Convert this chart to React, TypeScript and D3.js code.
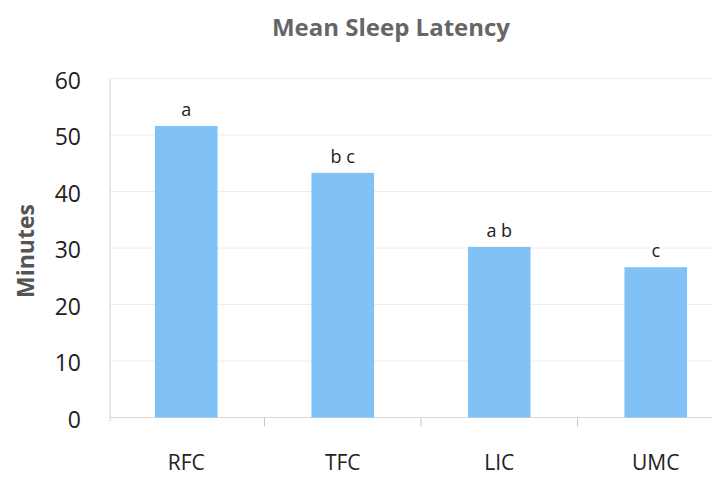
import React from "react";
import * as d3 from "d3";

const categories = ["RFC", "TFC", "LIC", "UMC"];
const values = [51.6, 43.3, 30.2, 26.6];
const letters = ["a", "b c", "a b", "c"];
const yTicks = [0, 10, 20, 30, 40, 50, 60];
const title = "Mean Sleep Latency";
const yLabel = "Minutes";

export default function App() {
  const W = 726, H = 479;
  const x = d3.scaleBand<string>().domain(categories).range([108, 734]).paddingInner(0.6).paddingOuter(0.3);
  const y = d3.scaleLinear().domain([0, 60]).range([417.5, 78.5]);
  const step = x.step();
  const font = "'Open Sans', 'Noto Sans', sans-serif";
  return (
    <svg width={W} height={H} style={{ position: "absolute", left: 0, top: 0, background: "#fff" }}>
      <rect x={0} y={0} width={W} height={H} fill="#fff" />
      <text x={391} y={28} dy="0.35em" textAnchor="middle" fontFamily={font} fontWeight="bold" fontSize={24} fill="#666">{title}</text>
      {yTicks.map((t) => (
        <g key={t}>
          <line x1={110} x2={712} y1={y(t)} y2={y(t)} stroke={t === 0 ? "#d8d8d8" : "#ececec"} strokeWidth={1} />
          <text x={81} y={y(t) + 2} dy="0.35em" textAnchor="end" fontFamily={font} fontSize={23} fill="#222">{t}</text>
        </g>
      ))}
      <line x1={110} x2={110} y1={y(60)} y2={y(0) + 4} stroke="#d0d0d0" strokeWidth={1} />
      {categories.slice(1).map((c) => {
        const bx = (x(c) as number) - (step - x.bandwidth()) / 2;
        return <line key={c} x1={bx} x2={bx} y1={y(0)} y2={y(0) + 9} stroke="#c8c8c8" strokeWidth={1} />;
      })}
      {categories.map((c, i) => (
        <g key={c}>
          <rect x={x(c)} y={y(values[i])} width={x.bandwidth()} height={y(0) - y(values[i])} fill="#80c1f6" />
          <text x={(x(c) as number) + x.bandwidth() / 2} y={y(values[i]) - 10} textAnchor="middle" fontFamily={font} fontSize={18} fill="#222">{letters[i]}</text>
          <text x={(x(c) as number) + x.bandwidth() / 2} y={463} dy="0.35em" textAnchor="middle" fontFamily={font} fontSize={21} fill="#222">{c}</text>
        </g>
      ))}
      <text transform={`translate(26, 251) rotate(-90)`} textAnchor="middle" dy="0.35em" fontFamily={font} fontWeight="bold" fontSize={23} fill="#555">{yLabel}</text>
    </svg>
  );
}
